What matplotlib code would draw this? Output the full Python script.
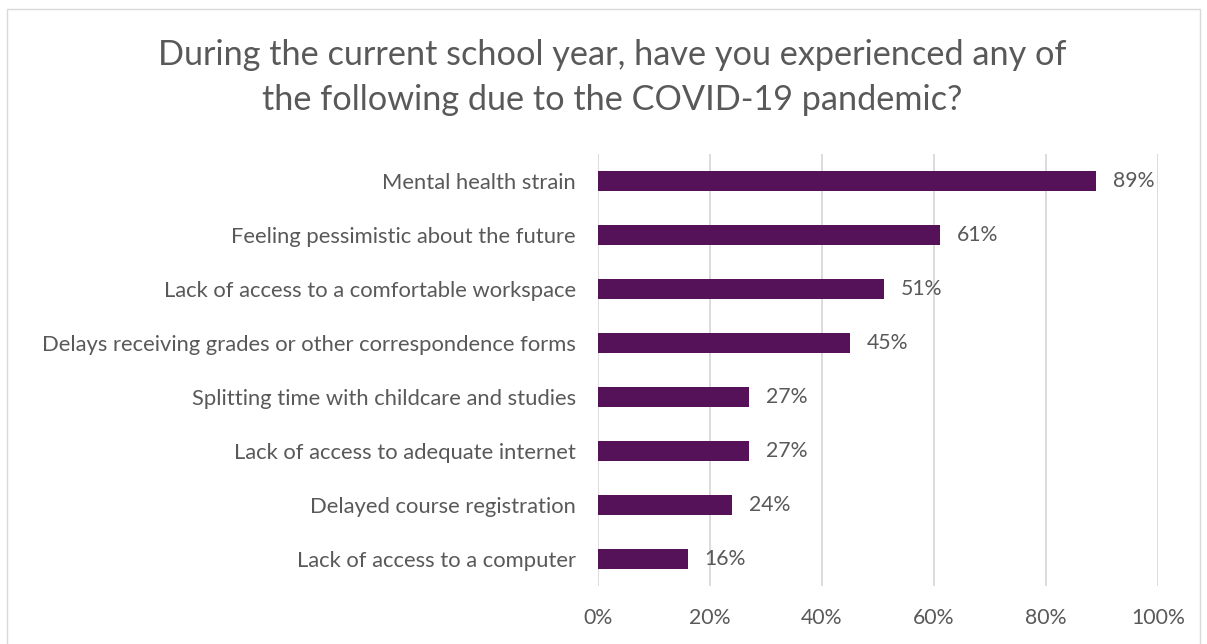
import matplotlib.pyplot as plt
from matplotlib.patches import Rectangle

# data
categories = [
    "Mental health strain",
    "Feeling pessimistic about the future",
    "Lack of access to a comfortable workspace",
    "Delays receiving grades or other correspondence forms",
    "Splitting time with childcare and studies",
    "Lack of access to adequate internet",
    "Delayed course registration",
    "Lack of access to a computer",
]
values = [0.89, 0.61, 0.51, 0.45, 0.27, 0.27, 0.24, 0.16]
ticks = [0, 0.2, 0.4, 0.6, 0.8, 1.0]

bar_color = "#561259"
text_color = "#595959"
grid_color = "#d9d9d9"

plt.rcParams['font.family'] = ['Lato', 'DejaVu Sans']

fig = plt.figure(figsize=(12.07, 6.44), dpi=100)
ax = fig.add_axes([0.4954, 0.090, 0.4640, 0.671])

y = list(range(len(categories)))
ax.barh(y, values, height=0.36, color=bar_color, zorder=3)
for yi, v in zip(y, values):
    ax.text(v + 0.03, yi, f"{round(v*100)}%", va="center", ha="left",
            fontsize=15.3, color=text_color)

ax.set_yticks(y)
ax.set_yticklabels(categories, fontsize=15.8, color=text_color)
ax.set_ylim(len(categories) - 0.5, -0.5)
ax.set_xlim(0, 1.0)
ax.set_xticks(ticks)
ax.set_xticklabels([f"{int(t*100)}%" for t in ticks], fontsize=15.3, color=text_color)
ax.tick_params(axis="y", length=0, pad=16)
ax.tick_params(axis="x", length=0, pad=16)
ax.grid(axis="x", color=grid_color, linewidth=1.3, zorder=0)
for s in ax.spines.values():
    s.set_visible(False)

fig.text(0.507, 0.880, "During the current school year, have you experienced any of\n"
         "the following due to the COVID-19 pandemic?",
         ha="center", va="center", fontsize=24.7, color=text_color, linespacing=1.5)

# chart frame
fig.patches.append(Rectangle((7/1207, -0.01), 1193/1207, 1 - 9/644 + 0.01,
                             transform=fig.transFigure, fill=False,
                             edgecolor="#d9d9d9", linewidth=1))

fig.savefig("out.png", dpi=100)
